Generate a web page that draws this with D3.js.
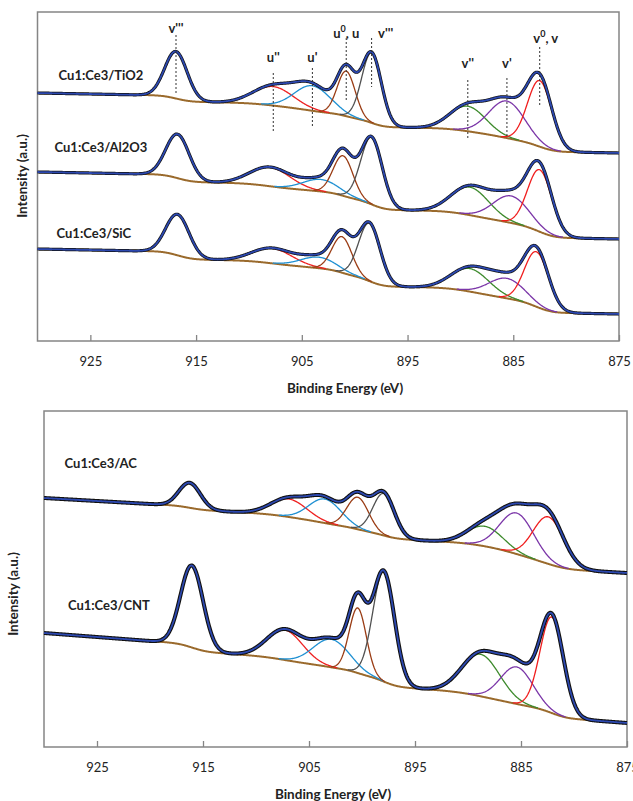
<!DOCTYPE html>
<html>
<head>
<meta charset="utf-8">
<script src="https://cdn.jsdelivr.net/npm/d3@7/dist/d3.min.js"></script>
<style>
  body { margin: 0; background: #fff; }
  text { font-family: Lato, "Open Sans", sans-serif; }
</style>
</head>
<body>
<div id="chart"></div>
<script>
// Ce 3d peak-fit components, same order for every sample
const peakNames = ["u'''", "u''", "u'", "u0", "v'''", "v''", "v'", "v0"];
const peakColors = ["#3a57b8", "#ee2222", "#1f90d2", "#9a3c14", "#505050", "#3d8a2c", "#7b36a8", "#f01e1e"];

// peak centres (eV), heights (a.u.) and FWHM (eV) read from the fits
const tio2Center = [916.9, 907.7, 904.0, 900.8, 898.4, 889.3, 885.6, 882.5];
const tio2Height = [47, 19, 25, 45, 70, 25, 37, 66];
const tio2Fwhm = [2.5, 4.5, 4.0, 2.0, 2.2, 4.0, 4.0, 2.7];

const al2o3Center = [916.75, 908.0, 903.2, 901.1, 898.4, 889.1, 885.2, 882.5];
const al2o3Height = [44, 19, 12, 40, 67, 28, 27, 62];
const al2o3Fwhm = [2.6, 4.5, 4.0, 2.2, 2.4, 4.2, 4.0, 2.7];

const sicCenter = [916.75, 907.8, 903.4, 901.2, 898.6, 889.1, 885.6, 882.8];
const sicHeight = [41, 15, 11, 36, 58, 23, 20, 55];
const sicFwhm = [2.6, 4.5, 4.0, 2.2, 2.4, 4.2, 4.0, 2.7];

const acCenter = [916.25, 906.9, 903.5, 900.4, 897.95, 888.4, 885.4, 882.4];
const acHeight = [25, 18, 24, 32, 42, 20, 41, 47];
const acFwhm = [2.4, 4.0, 3.6, 2.4, 2.4, 4.0, 3.8, 3.4];

const cntCenter = [916.05, 907.3, 902.9, 900.4, 897.95, 888.8, 885.4, 882.1];
const cntHeight = [82, 30, 28, 65, 110, 42, 37, 96];
const cntFwhm = [2.5, 4.0, 4.0, 1.9, 2.4, 4.2, 3.6, 2.6];

// Shirley background: level at 875 eV, step height, linear slope per eV
const sampleNames = ["Cu1:Ce3/TiO2", "Cu1:Ce3/Al2O3", "Cu1:Ce3/SiC", "Cu1:Ce3/AC", "Cu1:Ce3/CNT"];
const bgRight = [188, 102, 27, 174, 24];
const bgStep = [49, 56, 54, 42, 46];
const bgSlope = [0.2, 0.2, 0.2, 0.6, 0.8];

// peak markers on the TiO2 spectrum
const markLabels = ["v'''", "u''", "u'", "u0, u", "v'''", "v''", "v'", "v0, v"];

const xTicks = [925, 915, 905, 895, 885, 875];

const centers = [tio2Center, al2o3Center, sicCenter, acCenter, cntCenter];
const heights = [tio2Height, al2o3Height, sicHeight, acHeight, cntHeight];
const fwhms = [tio2Fwhm, al2o3Fwhm, sicFwhm, acFwhm, cntFwhm];

const svg = d3.select("#chart").append("svg")
    .attr("width", 633).attr("height", 801);

// panel layout
const panels = [
    { x0: 37.5, x1: 619, y0: 12, y1: 341, samples: [0, 1, 2], titleX: 345, ylabX: 22, ylabY: 176 },
    { x0: 44, x1: 627, y0: 411, y1: 747, samples: [3, 4], titleX: 333, ylabX: 13, ylabY: 594 }
];
const labelPos = [[58.6, 75], [54.5, 147], [56.5, 233], [64.6, 463], [67.9, 605]];

const gauss = (e, c, h, w) => h * Math.exp(-4 * Math.LN2 * (e - c) * (e - c) / (w * w));

function buildSpectrum(s) {
    const step = 0.05, es = d3.range(875, 930 + step / 2, step);
    const sums = es.map(e => d3.sum(centers[s], (c, i) => gauss(e, c, heights[s][i], fwhms[s][i])));
    // cumulative area from low BE side
    let acc = 0;
    const cum = sums.map(v => (acc += v));
    const total = cum[cum.length - 1];
    const bg = es.map((e, i) => bgRight[s] + bgStep[s] * cum[i] / total + bgSlope[s] * (e - 875));
    return { es, sums, bg };
}

function draw_panel(p) {
    const x = d3.scaleLinear().domain([930, 875]).range([p.x0, p.x1]);
    const y = d3.scaleLinear().domain([0, p.y1 - p.y0]).range([p.y1, p.y0]);
    const g = svg.append("g");

    g.append("rect")
        .attr("x", p.x0).attr("y", p.y0)
        .attr("width", p.x1 - p.x0).attr("height", p.y1 - p.y0)
        .attr("fill", "none").attr("stroke", "#858585").attr("stroke-width", 1.5);

    const ax = g.append("g")
        .attr("transform", `translate(0, ${p.y1})`)
        .call(d3.axisBottom(x).tickValues(xTicks).tickSize(-6).tickSizeOuter(0).tickPadding(16));
    ax.select(".domain").remove();
    ax.selectAll(".tick line").attr("stroke", "#858585").attr("stroke-width", 1.3);
    ax.selectAll(".tick text").attr("font-size", 13).attr("fill", "#222")
        .style("font-family", "Lato, sans-serif");

    g.append("text")
        .attr("x", p.titleX).attr("y", p.y1 + 52)
        .attr("text-anchor", "middle").attr("font-size", 13.5).attr("font-weight", 700)
        .attr("fill", "#222").text("Binding Energy (eV)");

    g.append("text")
        .attr("transform", `translate(${p.ylabX}, ${p.ylabY}) rotate(-90)`)
        .attr("text-anchor", "middle").attr("dominant-baseline", "central")
        .attr("font-size", 13.5).attr("font-weight", 700).attr("fill", "#222")
        .text("Intensity (a.u.)");

    const line = d3.line().x(d => x(d[0])).y(d => y(d[1]));

    p.samples.forEach(s => {
        const sp = buildSpectrum(s);

        // background
        g.append("path")
            .attr("d", line(sp.es.map((e, i) => [e, sp.bg[i]])))
            .attr("fill", "none").attr("stroke", "#9a6a2c").attr("stroke-width", 2);

        // components
        centers[s].forEach((c, k) => {
            const pts = [];
            sp.es.forEach((e, i) => {
                const v = gauss(e, c, heights[s][k], fwhms[s][k]);
                if (v > 0.4) pts.push([e, sp.bg[i] + v]);
            });
            g.append("path")
                .attr("d", line(pts))
                .attr("fill", "none").attr("stroke", peakColors[k]).attr("stroke-width", 1.3);
        });

        const env = sp.es.map((e, i) => [e, sp.bg[i] + sp.sums[i]]);
        // measured trace
        g.append("path")
            .attr("d", line(env))
            .attr("fill", "none").attr("stroke", "#111").attr("stroke-width", s > 2 ? 4 : 3.2);
        // fit envelope
        g.append("path")
            .attr("d", line(env))
            .attr("fill", "none").attr("stroke", "#2c48b0").attr("stroke-width", 1.8);

        g.append("text")
            .attr("x", labelPos[s][0]).attr("y", labelPos[s][1])
            .attr("dominant-baseline", "central")
            .attr("font-size", 13).attr("font-weight", 700).attr("fill", "#222")
            .text(sampleNames[s]);
    });
    return { x, y };
}

const topScales = draw_panel(panels[0]);
draw_panel(panels[1]);

// dotted marker lines and labels on TiO2 trace (pixel extents)
const markY = [[35, 95], [73, 132], [68, 127], [38, 100], [38, 87], [80, 138], [78, 138], [47, 107]];
const markText = [[0, 28], [0, 57], [0, 57], [0, 33], [14, 33], [0, 63], [0, 63], [6, 38]];
const mg = svg.append("g");
tio2Center.forEach((c, i) => {
    const xx = topScales.x(c);
    mg.append("line")
        .attr("x1", xx).attr("x2", xx)
        .attr("y1", markY[i][0]).attr("y2", markY[i][1])
        .attr("stroke", "#333").attr("stroke-width", 1).attr("stroke-dasharray", "2,2");
    const t = mg.append("text")
        .attr("x", xx + markText[i][0]).attr("y", markText[i][1])
        .attr("text-anchor", "middle").attr("dominant-baseline", "central")
        .attr("font-size", 13).attr("font-weight", 700).attr("fill", "#222");
    const lab = markLabels[i];
    if (lab.indexOf("0") > 0) {
        t.append("tspan").text(lab[0]);
        t.append("tspan").attr("dy", -5).attr("font-size", 9).text("0");
        t.append("tspan").attr("dy", 5).text(lab.slice(2));
    } else {
        t.text(lab);
    }
});
</script>
</body>
</html>
